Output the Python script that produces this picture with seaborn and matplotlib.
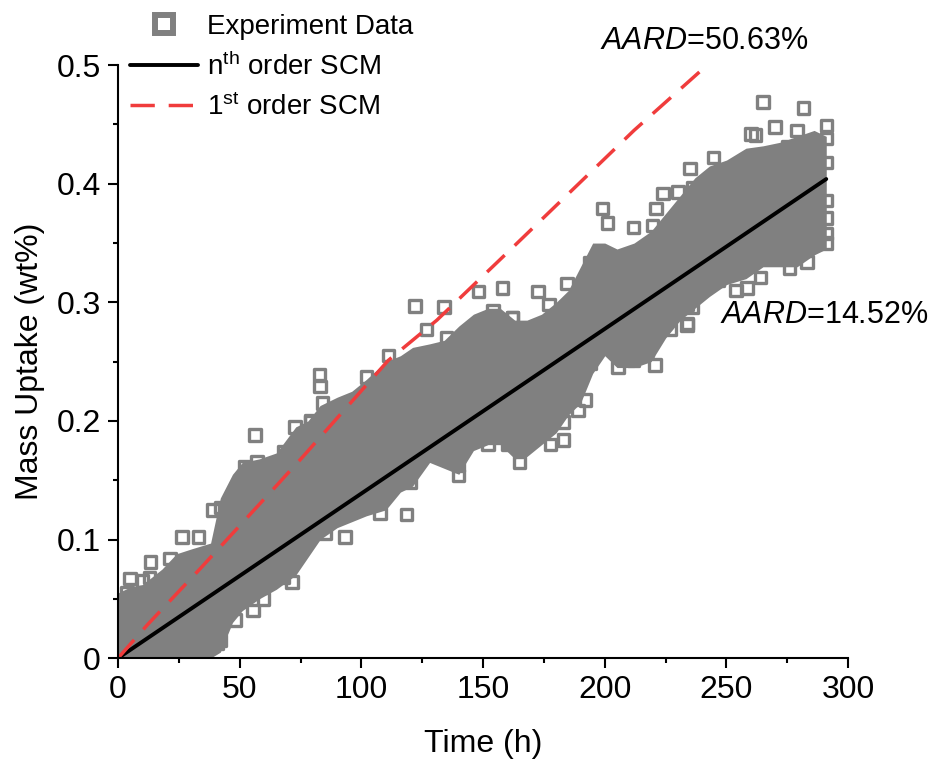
import numpy as np
import pandas as pd
import matplotlib.pyplot as plt
from matplotlib.lines import Line2D
from matplotlib.ticker import MultipleLocator
import seaborn as sns

# dense band of experiment points (outer edge of the grey mass)
band_t = [0, 5, 10, 18, 24, 30, 38, 42, 47, 51, 58, 65, 73, 78, 83, 90, 96, 102,
          110, 116, 121, 128, 134, 140, 146, 152, 157, 163, 168, 174, 180, 185, 190,
          195, 200, 205, 212, 219, 225, 231, 237, 243, 250, 258, 265, 272, 279, 286, 291]
band_hi = [0.055, 0.06, 0.062, 0.075, 0.088, 0.092, 0.097, 0.135, 0.155, 0.165, 0.168,
           0.173, 0.195, 0.2, 0.213, 0.22, 0.225, 0.235, 0.25, 0.255, 0.262, 0.265, 0.268,
           0.28, 0.29, 0.295, 0.295, 0.285, 0.285, 0.29, 0.3, 0.31, 0.33, 0.35, 0.35, 0.345,
           0.35, 0.36, 0.375, 0.39, 0.405, 0.415, 0.42, 0.43, 0.432, 0.435, 0.44, 0.445, 0.44]
band_lo = [0, 0, 0, 0, 0, 0, 0, 0.005, 0.03, 0.04, 0.05, 0.058, 0.07, 0.085, 0.1, 0.11,
           0.115, 0.12, 0.125, 0.14, 0.145, 0.165, 0.16, 0.155, 0.175, 0.18, 0.18, 0.168,
           0.17, 0.18, 0.19, 0.205, 0.215, 0.24, 0.255, 0.245, 0.245, 0.25, 0.27, 0.285,
           0.295, 0.305, 0.315, 0.32, 0.33, 0.33, 0.33, 0.34, 0.345]

# single experiment points that stand out from the band
exp_t = [4.9, 13.4, 13, 26.2, 33, 39, 56.3, 52, 57, 62.5, 68, 72.7, 59.7, 71.4, 48, 42,
         35.8, 51.5, 122, 134, 111, 82.7, 102, 148, 158, 139.8, 118.6, 93.3, 85, 152, 160,
         235, 199, 201, 224, 221, 172.6, 165, 177.6, 183, 205.5, 220.7, 234, 265, 281.6,
         270, 291, 262, 254, 258.5, 264, 246.6, 233.8, 291,
         126.8, 135, 83, 84, 105, 79, 154, 162, 146, 120, 107.7, 99.5, 80, 139.8,
         79, 42, 21.4, 10, 3.7, 68, 72, 55.5, 40.7, 35,
         194, 184.5, 211.7, 219.5, 230, 236, 177, 162, 198, 194, 192, 189, 183, 171.4,
         161, 211.7, 217.4, 227, 234,
         275, 291, 291, 291, 291, 291, 279, 260, 244.6, 276, 283, 248, 239, 236]
exp_m = [0.067, 0.081, 0.068, 0.102, 0.102, 0.125, 0.188, 0.161, 0.166, 0.159, 0.174,
         0.195, 0.05, 0.064, 0.032, 0.015, 0.01, 0.052, 0.297, 0.296, 0.255, 0.239, 0.237,
         0.309, 0.312, 0.154, 0.121, 0.102, 0.105, 0.18, 0.18, 0.413, 0.379, 0.367, 0.392,
         0.379, 0.309, 0.165, 0.18, 0.184, 0.245, 0.247, 0.282, 0.469, 0.464, 0.448, 0.449,
         0.441, 0.31, 0.312, 0.321, 0.319, 0.281, 0.35,
         0.277, 0.27, 0.229, 0.215, 0.216, 0.2, 0.293, 0.287, 0.192, 0.148, 0.122, 0.133,
         0.108, 0.163,
         0.199, 0.127, 0.084, 0.065, 0.055, 0.068, 0.097, 0.04, 0.0126, 0.018,
         0.333, 0.316, 0.363, 0.365, 0.393, 0.397, 0.298, 0.287, 0.262, 0.249, 0.2175,
         0.209, 0.199, 0.188, 0.181, 0.251, 0.26, 0.277, 0.298,
         0.431, 0.438, 0.418, 0.386, 0.371, 0.358, 0.445, 0.442, 0.422, 0.329, 0.334,
         0.33, 0.312, 0.296]

# model curves
nth_t = [0, 291]
nth_m = [0, 0.404]
first_t = [0, 12, 34, 64, 76, 111, 131, 162, 212, 242]
first_m = [0, 0.028, 0.076, 0.143, 0.17, 0.251, 0.285, 0.346, 0.445, 0.5]

x_ticks = [0, 50, 100, 150, 200, 250, 300]
y_ticks = [0, 0.1, 0.2, 0.3, 0.4, 0.5]
y_tick_labels = ['0', '0.1', '0.2', '0.3', '0.4', '0.5']

sns.set_style('ticks')
plt.rcParams['font.family'] = ['Liberation Sans', 'DejaVu Sans']
plt.rcParams['mathtext.fontset'] = 'custom'
plt.rcParams['mathtext.rm'] = 'Liberation Sans'
plt.rcParams['mathtext.it'] = 'Liberation Sans:italic'
for k in ['text.color', 'axes.labelcolor', 'xtick.color', 'ytick.color', 'axes.edgecolor']:
    plt.rcParams[k] = 'black'

grey = '#808080'
red = '#F03C3C'

fig = plt.figure(figsize=(9.3, 7.67), dpi=100)
ax = fig.add_axes([0.127, 0.142, 0.785, 0.773])

ax.fill_between(band_t, band_lo, band_hi, color=grey, lw=0)
df = pd.DataFrame({'t': exp_t, 'm': exp_m})
sns.scatterplot(data=df, x='t', y='m', ax=ax, marker='s', s=68,
                facecolors='none', edgecolor=grey, linewidth=2.4, legend=False)

sns.lineplot(x=nth_t, y=nth_m, ax=ax, color='black', lw=2.8, legend=False)
sns.lineplot(x=first_t, y=first_m, ax=ax, color=red, lw=2.5,
             linestyle=(0, (7, 4)), legend=False)

ax.set_xlim(0, 300)
ax.set_ylim(0, 0.5)
ax.set_xticks(x_ticks)
ax.set_yticks(y_ticks)
ax.set_yticklabels(y_tick_labels)
ax.xaxis.set_minor_locator(MultipleLocator(25))
ax.yaxis.set_minor_locator(MultipleLocator(0.05))
ax.tick_params(which='major', length=7.5, width=1.5, labelsize=23, pad=5)
ax.tick_params(which='minor', length=3.8, width=1.5)
for s in ['top', 'right']:
    ax.spines[s].set_visible(False)
for s in ['left', 'bottom']:
    ax.spines[s].set_linewidth(1.5)
    ax.spines[s].set_clip_on(False)

ax.set_xlabel('Time (h)', fontsize=23)
ax.set_ylabel('Mass Uptake (wt%)', fontsize=23)
ax.xaxis.set_label_coords(0.5, -0.12)
ax.yaxis.set_label_coords(-0.1, 0.5)

ax.text(198, 0.514, r'$\mathit{AARD}$=50.63%', fontsize=22, clip_on=False)
ax.text(247.4, 0.2825, r'$\mathit{AARD}$=14.52%', fontsize=22)

handles = [
    Line2D([], [], ls='none', marker='s', ms=13, mfc='none', mec=grey, mew=4.3),
    Line2D([], [], color='black', lw=2.8),
    Line2D([], [], color=red, lw=2.5, ls=(0, (7, 4))),
]
labels = ['Experiment Data', r'n$^{\mathrm{th}}$ order SCM', r'1$^{\mathrm{st}}$ order SCM']
fig.legend(handles, labels, loc='upper left', bbox_to_anchor=(0.14, 0.982),
           frameon=False, fontsize=20, handlelength=2.43, handletextpad=0.32,
           labelspacing=0.45, borderpad=0, borderaxespad=0)

fig.savefig('out.png', dpi=100)
